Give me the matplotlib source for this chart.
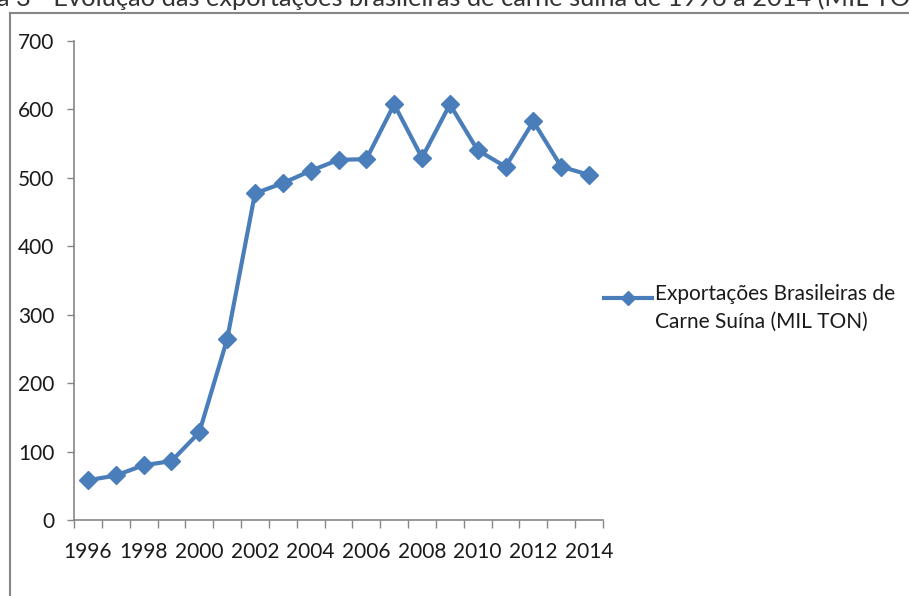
import matplotlib
matplotlib.use('Agg')
import matplotlib.pyplot as plt
from matplotlib.lines import Line2D
from matplotlib.legend_handler import HandlerLine2D

# ## Data
years = list(range(1996, 2015))
exports = [58, 65, 80, 86, 128, 264, 477, 492, 510, 526, 527, 607,
           529, 607, 540, 516, 582, 516, 504]
serie = 'Exportações Brasileiras de\nCarne Suína (MIL TON)'
titulo = 'Figura 3 - Evolução das exportações brasileiras de carne suína de 1996 a 2014 (MIL TON)'

plt.rcParams['font.family'] = ['Lato', 'DejaVu Sans']
blue = '#4A7EBB'
gray = '#868686'
txt = '#1a1a1a'

W, H = 909, 596
fig = plt.figure(figsize=(W / 100, H / 100), dpi=100)
ax = fig.add_axes([74 / W, 1 - 520 / H, 529 / W, 479.3 / H])

x = list(range(len(years)))
line, = ax.plot(x, exports, color=blue, lw=3, marker='D', ms=9.5, mec=blue,
                mew=1, label=serie, solid_joinstyle='round')

ax.set_xlim(-0.5, len(years) - 0.5)
ax.set_ylim(0, 700)
ax.set_yticks(range(0, 701, 100))
ax.set_xticks(x[::2])
ax.set_xticklabels([str(y) for y in years[::2]])
ax.set_xticks([i - 0.5 for i in range(len(years) + 1)], minor=True)

for s in ['top', 'right']:
    ax.spines[s].set_visible(False)
for s in ['left', 'bottom']:
    ax.spines[s].set_color(gray)
    ax.spines[s].set_linewidth(1.2)

ax.tick_params(axis='y', length=5, width=1, color=gray, pad=9,
               labelsize=15, labelcolor=txt)
ax.tick_params(axis='x', which='major', length=0, pad=16,
               labelsize=15, labelcolor=txt)
ax.tick_params(axis='x', which='minor', length=6, width=1, color=gray)


# legend handle sits on the first text line (Excel style)
class FirstLineHandler(HandlerLine2D):
    def create_artists(self, legend, orig_handle, xdescent, ydescent,
                       width, height, fontsize, trans):
        return super().create_artists(legend, orig_handle, xdescent,
                                      ydescent - 15, width, height,
                                      fontsize, trans)


leg = fig.legend(loc='upper left', bbox_to_anchor=(594 / W, 1 - 274 / H),
                 frameon=False, fontsize=15, handlelength=2.3,
                 handletextpad=0.15, markerscale=0.7, borderpad=0,
                 labelcolor=txt, handler_map={line: FirstLineHandler()})
for t in leg.get_texts():
    t.set_linespacing(1.45)

# outer border of chart (partially visible)
fig.add_artist(Line2D([10 / W, 1], [1 - 12.5 / H, 1 - 12.5 / H],
                      transform=fig.transFigure, color=gray, lw=1.5))
fig.add_artist(Line2D([10 / W, 10 / W], [1 - 12.5 / H, 0],
                      transform=fig.transFigure, color=gray, lw=1.5))

# cut-off caption on top: fit "Evolução ... (MIL T" between x=53 and x=890
fig.canvas.draw()
r = fig.canvas.get_renderer()
def width(s, size):
    t = fig.text(0, 0, s, fontsize=size)
    w = t.get_window_extent(r).width
    t.remove()
    return w
fs = 10 * 837 / width('Evolução das exportações brasileiras de carne suína de 1996 a 2014 (MIL T', 10)
pre = width('Figura 3 - ', fs)
fig.text((53 - pre) / W, 1 - 6.5 / H, titulo, fontsize=fs, color='#333333',
         va='baseline', ha='left')

fig.savefig('out.png', dpi=100)
